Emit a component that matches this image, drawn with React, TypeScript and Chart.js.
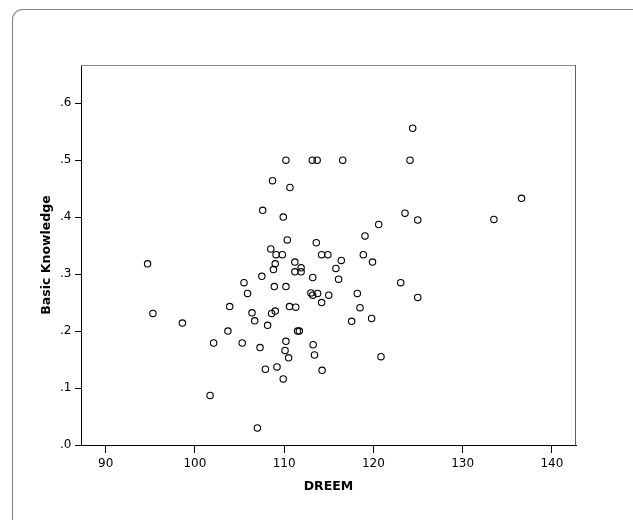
import React, { useEffect, useRef } from "react";
import { Chart, registerables } from "chart.js";

Chart.register(...registerables);

const dreem: number[] = [
  94.7, 95.3, 98.6, 101.7, 102.1, 103.7, 103.9, 105.3, 105.5, 105.9,
  106.4, 106.7, 107.0, 107.3, 107.5, 107.6, 107.9, 108.15, 108.5, 108.6,
  108.7, 108.8, 108.9, 109.0, 109.0, 109.1, 109.2, 109.8, 109.9, 109.9,
  110.1, 110.2, 110.2, 110.2, 110.35, 110.5, 110.6, 110.65, 111.2, 111.2,
  111.3, 111.5, 111.7, 111.9, 111.9, 113.15, 113.0, 113.2, 113.2, 113.25,
  113.4, 113.6, 113.7, 113.75, 114.2, 114.2, 114.25, 115.0, 114.9, 115.8,
  116.1, 116.4, 116.56, 117.56, 118.2, 118.5, 118.87, 119.06, 119.8, 119.9,
  120.6, 120.85, 123.06, 123.54, 124.1, 124.4, 124.97, 124.97, 133.5, 136.6,
];

const basicKnowledge: number[] = [
  0.318, 0.231, 0.214, 0.087, 0.179, 0.2, 0.243, 0.179, 0.285, 0.266,
  0.232, 0.218, 0.03, 0.171, 0.296, 0.412, 0.133, 0.21, 0.344, 0.231,
  0.464, 0.308, 0.278, 0.318, 0.235, 0.334, 0.137, 0.334, 0.4, 0.116,
  0.166, 0.182, 0.5, 0.278, 0.36, 0.153, 0.243, 0.452, 0.321, 0.304,
  0.242, 0.2, 0.2, 0.304, 0.311, 0.5, 0.267, 0.294, 0.263, 0.176,
  0.158, 0.355, 0.5, 0.266, 0.334, 0.25, 0.131, 0.263, 0.334, 0.31,
  0.291, 0.324, 0.5, 0.217, 0.266, 0.241, 0.334, 0.367, 0.222, 0.321,
  0.387, 0.155, 0.285, 0.407, 0.5, 0.556, 0.395, 0.259, 0.396, 0.433,
];

const xTicks: number[] = [90, 100, 110, 120, 130, 140];
const yTicks: number[] = [0, 0.1, 0.2, 0.3, 0.4, 0.5, 0.6];
const yTickLabels: string[] = [".0", ".1", ".2", ".3", ".4", ".5", ".6"];

const xTitle = "DREEM";
const yTitle = "Basic Knowledge";

const tickFont = { family: "'DejaVu Sans', sans-serif", size: 12 };
const titleFont = { family: "'DejaVu Sans', sans-serif", size: 12.5, weight: "bold" as const };

const framePlugin = {
  id: "framePlugin",
  beforeDraw(chart: any) {
    const ctx = chart.ctx;
    ctx.save();
    ctx.fillStyle = "#ffffff";
    ctx.fillRect(0, 0, chart.width, chart.height);
    ctx.strokeStyle = "#8a8a8a";
    ctx.lineWidth = 1.2;
    ctx.beginPath();
    ctx.roundRect(12.5, 9.5, 630, 540, 10);
    ctx.stroke();
    ctx.restore();
  },
  afterDatasetsDraw(chart: any) {
    const { ctx, chartArea } = chart;
    ctx.save();
    ctx.lineWidth = 1;
    ctx.strokeStyle = "#8c8c8c";
    ctx.beginPath();
    ctx.moveTo(chartArea.left, chartArea.top + 0.5);
    ctx.lineTo(chartArea.right, chartArea.top + 0.5);
    ctx.stroke();
    ctx.strokeStyle = "#606060";
    ctx.beginPath();
    ctx.moveTo(chartArea.right - 0.5, chartArea.top);
    ctx.lineTo(chartArea.right - 0.5, chartArea.bottom);
    ctx.stroke();
    ctx.restore();
  },
};

export default function App() {
  const canvasRef = useRef<HTMLCanvasElement | null>(null);

  useEffect(() => {
    if (!canvasRef.current) return;
    const chart = new Chart(canvasRef.current, {
      type: "scatter",
      data: {
        datasets: [
          {
            data: dreem.map((x, i) => ({ x, y: basicKnowledge[i] })),
            pointStyle: "circle",
            pointRadius: 3.2,
            pointHoverRadius: 3.2,
            borderWidth: 1.1,
            borderColor: "#000000",
            backgroundColor: "rgba(0,0,0,0)",
          },
        ],
      },
      plugins: [framePlugin],
      options: {
        animation: false,
        responsive: false,
        maintainAspectRatio: false,
        layout: { padding: { left: 0, top: 65, right: 57, bottom: 0 } },
        plugins: {
          legend: { display: false },
          tooltip: { enabled: false },
        },
        scales: {
          x: {
            type: "linear",
            min: 87.24,
            max: 142.7,
            afterFit: (scale: any) => {
              scale.height = 75;
            },
            afterBuildTicks: (scale: any) => {
              scale.ticks = xTicks.map((v) => ({ value: v }));
            },
            ticks: {
              font: tickFont,
              color: "#000000",
              padding: 4,
              maxRotation: 0,
              autoSkip: false,
              callback: (v: any) => String(v),
            },
            grid: {
              drawOnChartArea: false,
              drawTicks: true,
              tickLength: 8,
              color: "#000000",
            },
            border: { display: true, color: "#000000", width: 1 },
            title: {
              display: true,
              text: xTitle,
              font: titleFont,
              color: "#000000",
              padding: { top: 0, bottom: 25.5 },
            },
          },
          y: {
            type: "linear",
            min: 0,
            max: 0.667,
            afterFit: (scale: any) => {
              scale.width = 81;
            },
            afterBuildTicks: (scale: any) => {
              scale.ticks = yTicks.map((v) => ({ value: v }));
            },
            ticks: {
              font: tickFont,
              color: "#000000",
              padding: 3.5,
              autoSkip: false,
              callback: (v: any) => {
                const idx = yTicks.findIndex((t) => Math.abs(t - Number(v)) < 1e-9);
                return idx >= 0 ? yTickLabels[idx] : "";
              },
            },
            grid: {
              drawOnChartArea: false,
              drawTicks: true,
              tickLength: 6,
              color: "#000000",
            },
            border: { display: true, color: "#000000", width: 1 },
            title: {
              display: true,
              text: yTitle,
              font: titleFont,
              color: "#000000",
              padding: { top: 39, bottom: 0 },
            },
          },
        },
      },
    });
    return () => chart.destroy();
  }, []);

  return (
    <div style={{ position: "fixed", left: 0, top: 0, width: 633, height: 520, background: "#fff" }}>
      <canvas ref={canvasRef} width={633} height={520} style={{ width: 633, height: 520, display: "block" }} />
    </div>
  );
}
